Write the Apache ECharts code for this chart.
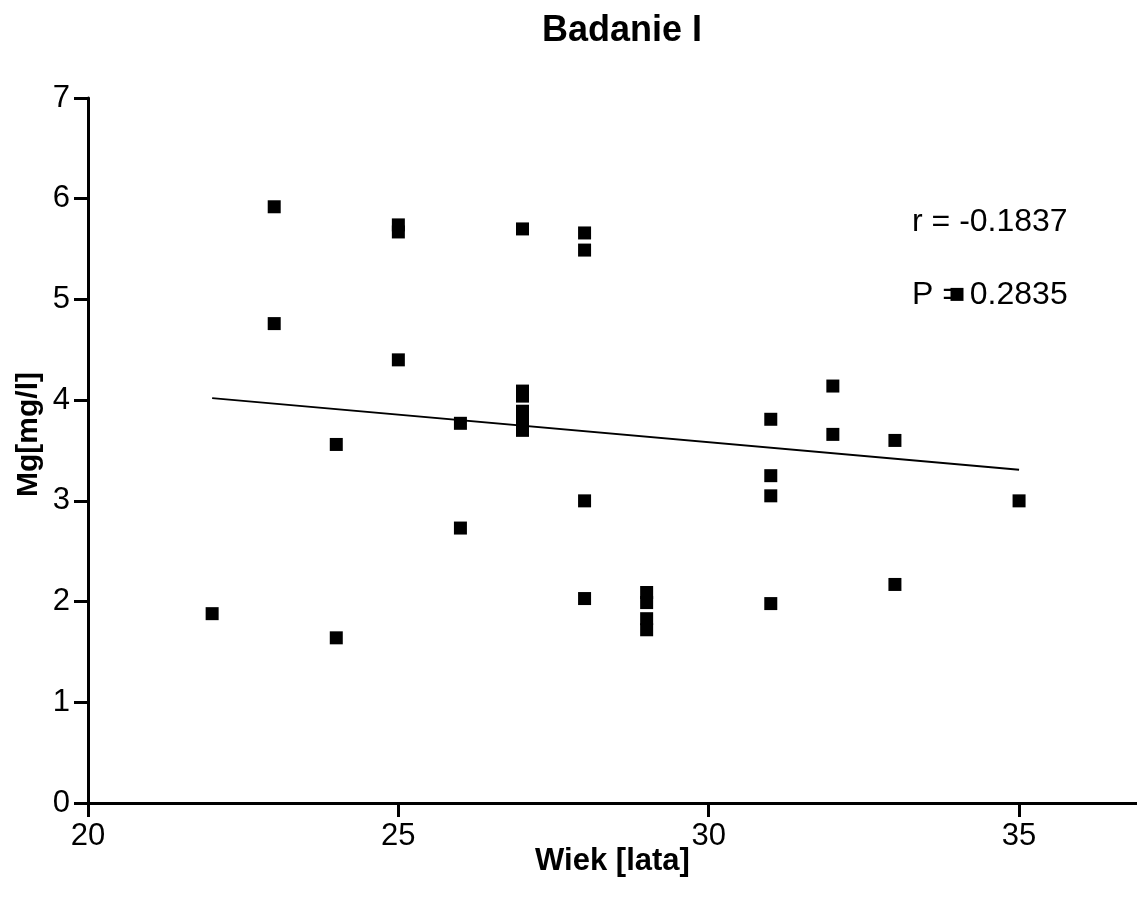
<!DOCTYPE html>
<html>
<head>
<meta charset="utf-8">
<script src="https://cdn.jsdelivr.net/npm/echarts@6/dist/echarts.min.js"></script>
<style>html,body{margin:0;padding:0;background:#fff}#c{width:1137px;height:907px}</style>
</head>
<body>
<div id="c"></div>
<script>
const ages = [22, 23, 23, 24, 24, 25, 25, 25, 26, 26,
  27, 27, 27, 27, 27, 27, 27, 28, 28, 28, 28,
  29, 29, 29, 29, 31, 31, 31, 31, 32, 32, 33, 33, 34, 35];
const mg = [1.88, 5.92, 4.76, 3.56, 1.64, 5.74, 5.67, 4.40, 3.77, 2.73,
  5.70, 4.09, 4.04, 3.89, 3.82, 3.76, 3.70, 5.66, 5.49, 3.00, 2.03,
  2.09, 1.99, 1.83, 1.72, 3.81, 3.25, 3.05, 1.98, 4.14, 3.66, 3.60, 2.17, 5.05, 3.00];
const fitX = [22, 35];
const fitY = [4.02, 3.31];
const xTicks = [20, 25, 30, 35];
const yTicks = [0, 1, 2, 3, 4, 5, 6, 7];
const statLines = ['r = -0.1837', 'P = 0.2835'];

const font = '"Liberation Sans", Arial, sans-serif';
const chart = echarts.init(document.getElementById('c'));
chart.setOption({
  animation: false,
  backgroundColor: '#fff',
  title: {
    text: 'Badanie I', left: 617, top: 8, textAlign: 'center',
    textStyle: {fontFamily: font, fontSize: 36, fontWeight: 'bold', color: '#000'}
  },
  grid: {left: 88, right: 0, top: 98, bottom: 104},
  xAxis: {
    type: 'value', min: 20, max: 36.9, interval: 5,
    name: 'Wiek [lata]', nameLocation: 'middle', nameGap: 43, nameMoveOverlap: false,
    nameTextStyle: {fontFamily: font, fontSize: 31, fontWeight: 'bold', color: '#000'},
    axisLine: {lineStyle: {color: '#000', width: 3}},
    axisTick: {inside: false, length: 14, lineStyle: {color: '#000', width: 3}},
    axisLabel: {fontFamily: font, fontSize: 31, color: '#000', margin: 18, showMaxLabel: false,
      formatter: v => xTicks.includes(v) ? String(v) : ''},
    splitLine: {show: false}
  },
  yAxis: {
    type: 'value', min: 0, max: 7, interval: 1,
    name: 'Mg[mg/l]', nameLocation: 'middle', nameGap: 44, nameMoveOverlap: false,
    nameTextStyle: {fontFamily: font, fontSize: 30, fontWeight: 'bold', color: '#000', padding: [0, 0, 0, 32]},
    axisLine: {lineStyle: {color: '#000', width: 3}},
    axisTick: {inside: false, length: 14, lineStyle: {color: '#000', width: 3}},
    axisLabel: {fontFamily: font, fontSize: 31, color: '#000', margin: 18,
      formatter: v => yTicks.includes(v) ? String(v) : ''},
    splitLine: {show: false}
  },
  series: [
    {
      type: 'line', data: fitX.map((x, i) => [x, fitY[i]]),
      symbol: 'none', lineStyle: {color: '#000', width: 2}, z: 2
    },
    {
      type: 'scatter', data: ages.map((a, i) => [a, mg[i]]),
      symbol: 'rect', symbolSize: 13, itemStyle: {color: '#000', opacity: 1}, z: 3
    }
  ],
  graphic: statLines.map((t, i) => ({
    type: 'text', left: 912, top: 206 + i * 73, z: 1,
    style: {text: t, fontFamily: font, fontSize: 32, fill: '#000'}
  }))
});
</script>
</body>
</html>
